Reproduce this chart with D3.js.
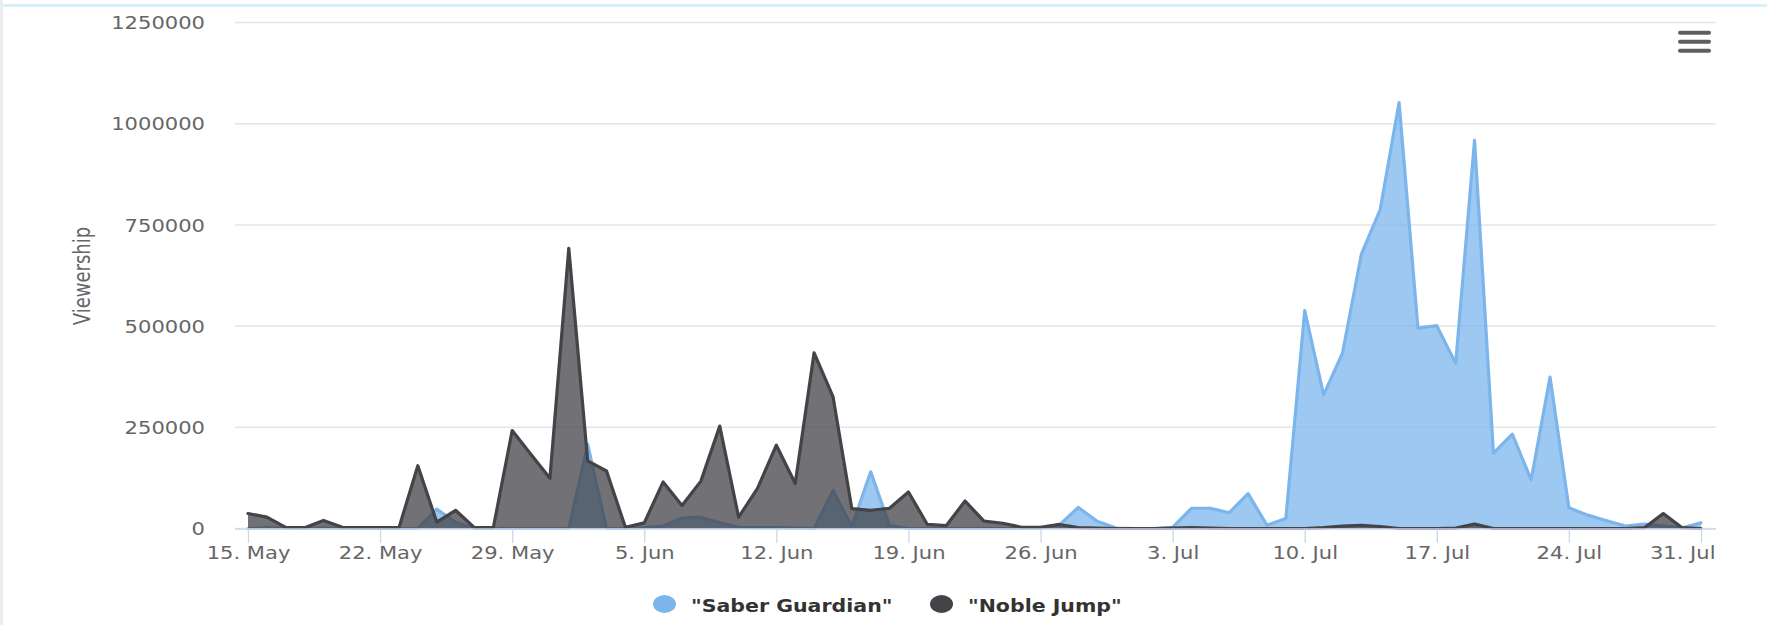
<!DOCTYPE html>
<html><head><meta charset="utf-8">
<script src="https://cdn.jsdelivr.net/npm/d3@7"></script>
<style>html,body{margin:0;padding:0;background:#fff;} svg{display:block;}</style>
</head><body><svg id="c" width="1767" height="625"></svg>
<script>
// ---- data ----
const startDate = "2017-05-15"; // one value per day from here
const seriesNames = ['"Saber Guardian"', '"Noble Jump"'];
const saberGuardian = [
  0, 2000, 1000, 1000, 1000, 0, 0, 0, 0, 0,
  48000, 15000, 0, 0, 0, 0, 0, 0, 208000, 0,
  0, 2000, 6000, 26000, 28000, 14000, 3000, 2000, 2000, 1000,
  0, 94000, 5000, 140000, 7000, 0, 0, 0, 0, 0,
  0, 0, 1000, 9000, 52000, 18000, 1000, 0, 0, 3000,
  50000, 50000, 39000, 86000, 8000, 25000, 538000, 330000, 433000, 677000,
  788000, 1052000, 495000, 501000, 408000, 959000, 186000, 233000, 120000, 374000,
  51000, 33000, 19000, 6000, 11000, 6000, 2000, 14000
];
const nobleJump = [
  37000, 28000, 3000, 2000, 20000, 3000, 2000, 2000, 2000, 155000,
  16000, 45000, 2000, 2000, 242000, 183000, 124000, 692000, 167000, 142000,
  3000, 14000, 115000, 57000, 117000, 253000, 28000, 99000, 206000, 111000,
  434000, 326000, 49000, 45000, 50000, 90000, 10000, 7000, 68000, 18000,
  13000, 3000, 3000, 10000, 2000, 1000, 0, 0, 0, 1000,
  2000, 1000, 0, 0, 0, 0, 0, 2000, 6000, 8000,
  5000, 0, 0, 0, 1000, 11000, 0, 0, 0, 0,
  0, 0, 0, 0, 2000, 37000, 2000, 0
];
const yTickValues = [0, 250000, 500000, 750000, 1000000, 1250000];
const xTickDates = ["2017-05-15","2017-05-22","2017-05-29","2017-06-05","2017-06-12","2017-06-19",
  "2017-06-26","2017-07-03","2017-07-10","2017-07-17","2017-07-24","2017-07-31"];
const yAxisTitle = "Viewership";
const seriesColors = ["#7cb5ec", "#434348"];

// ---- drawing ----
const SX = 1.24; // horizontal stretch of the reference text
const FONT = "'DejaVu Sans', Verdana, sans-serif";
const svg = d3.select("#c");
const parse = d3.utcParse("%Y-%m-%d");
const t0 = parse(startDate);
const dates = saberGuardian.map((_, i) => d3.utcDay.offset(t0, i));
const plotL = 235, plotR = 1716;

const x = d3.scaleUtc().domain([dates[0], dates[dates.length - 1]]).range([248, 1701]);
const y = d3.scaleLinear().domain([0, 1250000]).range([528.5, 22.5]);

// frame
svg.append("rect").attr("x", 0).attr("y", 0).attr("width", 1767).attr("height", 625).attr("fill", "#fff");
svg.append("rect").attr("x", 0).attr("y", 0).attr("width", 3).attr("height", 625).attr("fill", "#ececec");
svg.append("line").attr("x1", 3).attr("x2", 1767).attr("y1", 5.5).attr("y2", 5.5)
  .attr("stroke", "#d8eef8").attr("stroke-width", 3);

// gridlines
svg.append("g").selectAll("line").data(yTickValues).join("line")
  .attr("x1", plotL).attr("x2", plotR)
  .attr("y1", d => y(d)).attr("y2", d => y(d))
  .attr("stroke", "#e6e6e6").attr("stroke-width", 1.5);

// areas
const series = [saberGuardian, nobleJump].map((vals, k) => ({
  name: seriesNames[k], color: seriesColors[k],
  pts: vals.map((v, i) => ({ date: dates[i], v }))
}));
const area = d3.area().x(d => x(d.date)).y0(y(0)).y1(d => y(d.v));
const line = d3.line().x(d => x(d.date)).y(d => y(d.v));
series.forEach(s => {
  const g = svg.append("g");
  g.append("path").attr("d", area(s.pts)).attr("fill", s.color).attr("fill-opacity", 0.75);
  g.append("path").attr("d", line(s.pts)).attr("fill", "none").attr("stroke", s.color)
    .attr("stroke-width", 3.2).attr("stroke-linejoin", "round").attr("stroke-linecap", "round");
});

// x axis
svg.append("line").attr("x1", plotL).attr("x2", plotR).attr("y1", 529).attr("y2", 529)
  .attr("stroke", "#ccd6eb").attr("stroke-width", 1.5);
const xTicks = xTickDates.map(parse);
const xAxis = svg.append("g").attr("transform", "translate(0,529)")
  .call(d3.axisBottom(x).tickValues(xTicks).tickSize(14).tickFormat(d3.utcFormat("%-d. %b")));
xAxis.select(".domain").remove();
xAxis.selectAll(".tick line").attr("stroke", "#ccd6eb").attr("stroke-width", 1.3);
xAxis.selectAll(".tick text")
  .attr("y", 30).attr("dy", 0)
  .attr("fill", "#666").style("font-family", FONT).style("font-size", "17px")
  .attr("transform", `scale(${SX},1)`);
xAxis.selectAll(".tick text").filter((d, i, n) => i === n.length - 1)
  .attr("text-anchor", "end").attr("x", (plotR - 1 - x(xTicks[xTicks.length - 1])) / SX);

// y axis labels
const yAxis = svg.append("g").attr("transform", "translate(205,0)")
  .call(d3.axisLeft(y).tickValues(yTickValues).tickSize(0).tickPadding(0).tickFormat(d3.format("d")));
yAxis.select(".domain").remove();
yAxis.selectAll(".tick text")
  .attr("x", 0).attr("dy", "0.36em")
  .attr("fill", "#666").style("font-family", FONT).style("font-size", "17px")
  .attr("transform", `scale(${SX},1)`);

// y title
svg.append("text").text(yAxisTitle)
  .attr("transform", `translate(90,276) scale(${SX},1) rotate(-90)`)
  .attr("text-anchor", "middle").attr("fill", "#666")
  .style("font-family", FONT).style("font-size", "18px");

// legend
const legendPos = [{ cx: 664.5, tx: 691 }, { cx: 941.5, tx: 968 }];
series.forEach((s, k) => {
  svg.append("ellipse").attr("cx", legendPos[k].cx).attr("cy", 604).attr("rx", 11.5).attr("ry", 9)
    .attr("fill", s.color);
  svg.append("text").text(s.name)
    .attr("transform", `translate(${legendPos[k].tx},612) scale(1.14,1)`)
    .attr("fill", "#333").style("font-family", FONT).style("font-size", "18px").style("font-weight", "bold");
});

// menu icon
svg.append("g").selectAll("rect").data([30.7, 39.7, 48.7]).join("rect")
  .attr("x", 1678).attr("y", d => d).attr("width", 33).attr("height", 4).attr("rx", 2)
  .attr("fill", "#5f5f5f");
</script></body></html>
